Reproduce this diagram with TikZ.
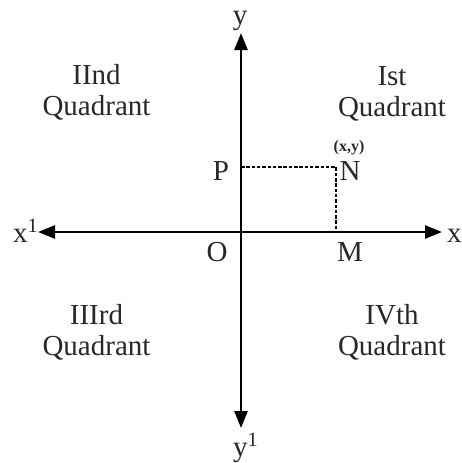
\documentclass[tikz,border=0pt]{standalone}
\usepackage{fontspec}
\setmainfont{Liberation Serif}
\usetikzlibrary{arrows.meta}
\definecolor{inkGray}{RGB}{40, 40, 40}

\begin{document}
\begin{tikzpicture}[x=1pt, y=-1pt,
    axis/.style={line width=2.6pt, {Triangle[length=17pt,width=13pt]}-{Triangle[length=17pt,width=13pt]}},
    guide/.style={line width=2pt, dash pattern=on 3.5pt off 1.8pt},
    lbl/.style={inkGray, font=\fontsize{29}{31}\selectfont, inner sep=0pt, anchor=base},
    quad/.style={lbl, align=center, anchor=north}]
      \useasboundingbox (0,0) rectangle (462,463);

      \coordinate (O) at (241,232);
      \coordinate (xl) at (38,232);
      \coordinate (xr) at (442,232);
      \coordinate (yt) at (241,33);
      \coordinate (yb) at (241,428);
      \coordinate (p) at (241,167);
      \coordinate (n) at (336,167);
      \coordinate (m) at (336,232);

      \draw[axis] (xl) -- (xr);
      \draw[axis] (yt) -- (yb);
      \draw[guide] (p) -- (n) -- (m);

      \node[lbl, anchor=base west] (xneg) at (13,242) {x\textsuperscript{1}};
      \node[lbl, anchor=base west] (xpos) at (447,242) {x};
      \node[lbl] (ypos) at (240,24) {y};
      \node[lbl, anchor=base west] (yneg) at (233,456) {y\textsuperscript{1}};

      \node[lbl] (lblP) at (221,180) {P};
      \node[lbl] (lblN) at (350,180) {N};
      \node[lbl] (lblO) at (217,261) {O};
      \node[lbl] (lblM) at (350,261) {M};
      \node[lbl, font=\fontsize{16}{18}\selectfont\bfseries] (lblxy) at (349,151) {(x,y)};

      \node[quad] (q1) at (392,66) {Ist\\Quadrant};
      \node[quad] (q2) at (96.5,64) {IInd\\Quadrant};
      \node[quad] (q3) at (96.5,304) {IIIrd\\Quadrant};
      \node[quad] (q4) at (392,304) {IVth\\Quadrant};
    \end{tikzpicture}
\end{document}
